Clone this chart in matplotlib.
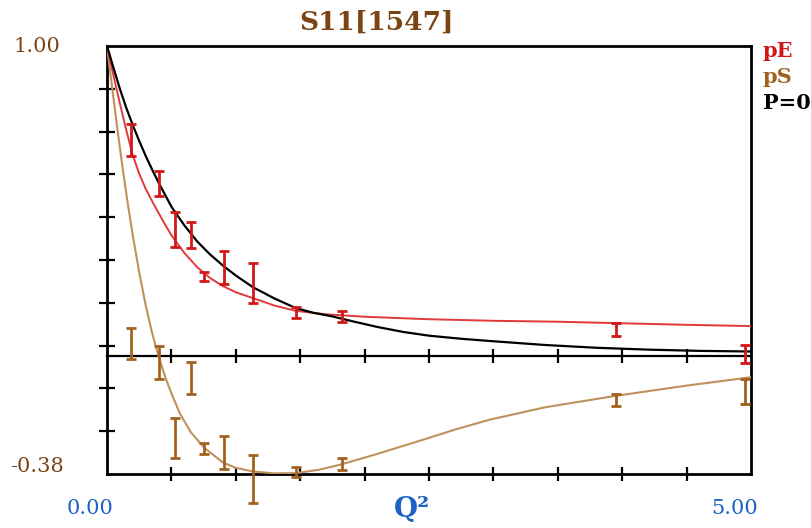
import numpy as np
import matplotlib
matplotlib.use("Agg")
import matplotlib.pyplot as plt

# ---------------- data ----------------
q2_pts = [0.19, 0.40, 0.53, 0.65, 0.755, 0.907, 1.134, 1.465, 1.827, 3.95, 4.95]
pE_val = [0.697, 0.557, 0.408, 0.390, 0.257, 0.286, 0.235, 0.141, 0.128, 0.086, 0.007]
pE_err = [0.051, 0.040, 0.056, 0.042, 0.014, 0.054, 0.065, 0.019, 0.018, 0.020, 0.028]
pS_val = [0.040, -0.021, -0.264, -0.071, -0.298, -0.312, -0.396, -0.374, -0.347, -0.142, -0.115]
pS_err = [0.050, 0.053, 0.063, 0.051, 0.018, 0.053, 0.078, 0.017, 0.020, 0.020, 0.040]

# P=0 curve (black)
p0_x = [0.0, 0.05, 0.10, 0.15, 0.20, 0.25, 0.30, 0.35, 0.40, 0.50, 0.60, 0.70, 0.80,
        0.90, 1.00, 1.134, 1.30, 1.465, 1.60, 1.75, 1.90, 2.10, 2.30, 2.50, 2.75,
        3.00, 3.40, 3.80, 4.20, 4.60, 5.00]
p0_y = [1.000, 0.930, 0.862, 0.800, 0.745, 0.694, 0.646, 0.602, 0.560, 0.482, 0.422,
        0.370, 0.328, 0.292, 0.260, 0.222, 0.186, 0.155, 0.140, 0.128, 0.113, 0.094,
        0.078, 0.066, 0.056, 0.048, 0.036, 0.027, 0.021, 0.017, 0.015]

# pE curve (red)
pEc_x = [0.0, 0.05, 0.10, 0.15, 0.20, 0.25, 0.30, 0.35, 0.40, 0.45, 0.50, 0.60, 0.70,
         0.80, 0.90, 1.00, 1.134, 1.30, 1.465, 1.70, 2.00, 2.50, 3.00, 3.50, 4.00,
         4.50, 5.00]
pEc_y = [1.000, 0.905, 0.815, 0.728, 0.648, 0.588, 0.540, 0.500, 0.462, 0.425, 0.390,
         0.333, 0.287, 0.252, 0.226, 0.206, 0.187, 0.163, 0.146, 0.135, 0.127, 0.119,
         0.114, 0.111, 0.106, 0.101, 0.097]

# pS curve (brown)
pSc_x = [0.0, 0.04, 0.08, 0.12, 0.16, 0.20, 0.25, 0.30, 0.35, 0.40, 0.45, 0.50, 0.566,
         0.65, 0.754, 0.90, 1.00, 1.134, 1.30, 1.47, 1.65, 1.82, 2.10, 2.45, 2.70,
         2.97, 3.40, 3.95, 4.50, 5.00]
pSc_y = [1.000, 0.865, 0.735, 0.610, 0.495, 0.390, 0.270, 0.165, 0.075, 0.000, -0.065,
         -0.120, -0.185, -0.245, -0.295, -0.343, -0.360, -0.372, -0.378, -0.377, -0.366,
         -0.349, -0.315, -0.270, -0.237, -0.205, -0.165, -0.128, -0.095, -0.068]

ymin, ymax = -0.38, 1.00
xmin, xmax = 0.0, 5.00
legend_names = ["pE", "pS", "P=0"]

# ---------------- style ----------------
RED = "#d01818"
RED_LINE = "#e03a3a"
BROWN_BAR = "#a2621f"
BROWN_LINE = "#c0915c"
TITLE_BROWN = "#7a4414"
BLUE = "#1a63c4"
SERIF = ["DejaVu Serif"]

W, H = 812, 528
fig = plt.figure(figsize=(W / 100, H / 100), dpi=100)
L, R, T, B = 107, 751, 46, 474
ax = fig.add_axes([L / W, 1 - B / H, (R - L) / W, (B - T) / H])
ax.set_xlim(xmin, xmax)
ax.set_ylim(ymin, ymax)

for s in ax.spines.values():
    s.set_linewidth(2.0)
    s.set_color("black")

ax.set_yticks(np.linspace(ymin, ymax, 11)[1:-1])
ax.set_xticks(np.arange(0.5, 5.0, 0.5))
ax.tick_params(axis="y", direction="inout", length=12, width=1.6, labelleft=False)
ax.tick_params(axis="x", direction="inout", length=10, width=1.6, labelbottom=False)

zero_frac = (0 - ymin) / (ymax - ymin)
sec = ax.secondary_xaxis(zero_frac)
sec.set_xticks(np.arange(0.5, 5.0, 0.5))
sec.tick_params(direction="inout", length=10, width=1.6, labelbottom=False, labeltop=False)
for s in sec.spines.values():
    s.set_linewidth(1.6)

# curves
ax.plot(pSc_x, pSc_y, color=BROWN_LINE, lw=1.5, zorder=3, solid_joinstyle="round")
ax.plot(pEc_x, pEc_y, color=RED_LINE, lw=1.4, zorder=3, solid_joinstyle="round")
ax.plot(p0_x, p0_y, color="black", lw=1.6, zorder=4, solid_joinstyle="round")

# error bars
ax.errorbar(q2_pts, pE_val, yerr=pE_err, fmt="none", ecolor=RED, elinewidth=2.0,
            capsize=3.5, capthick=2.0, clip_on=False, zorder=5)
ax.errorbar(q2_pts, pS_val, yerr=pS_err, fmt="none", ecolor=BROWN_BAR, elinewidth=2.0,
            capsize=3.5, capthick=2.0, clip_on=False, zorder=5)

# texts
fig.text(377 / W, 1 - 22 / H, "S11[1547]", ha="center", va="center", color=TITLE_BROWN,
         fontsize=19, fontweight="bold", family=SERIF)
fig.text(37 / W, 1 - 47 / H, f"{ymax:.2f}", ha="center", va="center", color=TITLE_BROWN,
         fontsize=15, family=SERIF)
fig.text(37 / W, 1 - 467 / H, f"{ymin:.2f}", ha="center", va="center", color=TITLE_BROWN,
         fontsize=15, family=SERIF)
fig.text(90 / W, 1 - 509 / H, f"{xmin:.2f}", ha="center", va="center", color=BLUE,
         fontsize=15, family=SERIF)
fig.text(735 / W, 1 - 509 / H, f"{xmax:.2f}", ha="center", va="center", color=BLUE,
         fontsize=15, family=SERIF)
fig.text(412 / W, 1 - 510 / H, "Q²", ha="center", va="center", color=BLUE,
         fontsize=20, fontweight="bold", family=SERIF)

leg_colors = [RED, BROWN_BAR, "black"]
leg_base = [57, 83, 109]
for name, c, yb in zip(legend_names, leg_colors, leg_base):
    fig.text(763 / W, 1 - yb / H, name, ha="left", va="baseline", color=c,
             fontsize=15, fontweight="bold", family=SERIF)

fig.savefig("out.png", dpi=100)
